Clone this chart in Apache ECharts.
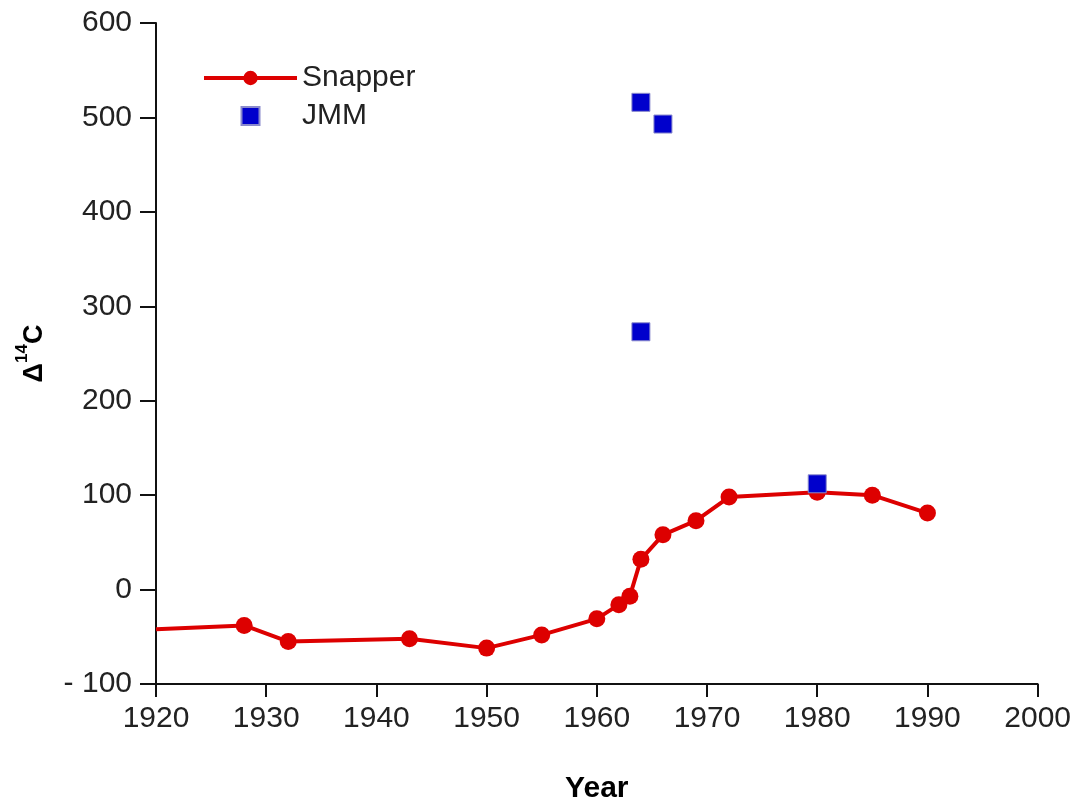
<!DOCTYPE html>
<html>
<head>
<meta charset="utf-8">
<script src="https://cdn.jsdelivr.net/npm/echarts@6/dist/echarts.min.js"></script>
<style>html,body{margin:0;padding:0;background:#fff;overflow:hidden}#c{width:1074px;height:809px}</style>
</head>
<body>
<div id="c"></div>
<script>
// Data
var snapperYears = [1920, 1928, 1932, 1943, 1950, 1955, 1960, 1962, 1963, 1964, 1966, 1969, 1972, 1980, 1985, 1990];
var snapperValues = [-42, -38, -55, -52, -62, -48, -31, -16, -7, 32, 58, 73, 98, 103, 100, 81];
var jmmYears = [1964, 1966, 1964, 1980];
var jmmValues = [516, 493, 273, 112];
var xTicks = [1920, 1930, 1940, 1950, 1960, 1970, 1980, 1990, 2000];
var yTicks = [-100, 0, 100, 200, 300, 400, 500, 600];

var snapperData = snapperYears.map(function (y, i) {
  var item = { value: [y, snapperValues[i]] };
  if (i === 0) item.symbol = 'none';
  return item;
});
var jmmData = jmmYears.map(function (y, i) { return [y, jmmValues[i]]; });

var font = '"Liberation Sans", Arial, sans-serif';
var red = '#dd0000';
var blue = '#0000cc';
var chart = echarts.init(document.getElementById('c'), null, { renderer: 'canvas', width: 1074, height: 809 });
chart.setOption({
  animation: false,
  backgroundColor: '#fff',
  grid: { left: 156, right: 35, top: 23, bottom: 124, containLabel: false },
  legend: {
    orient: 'vertical',
    left: 197,
    top: 58,
    itemWidth: 93,
    itemHeight: 18,
    itemGap: 8,
    textStyle: { fontFamily: font, fontSize: 30, color: '#222' },
    data: [
      { name: 'Snapper', lineStyle: { width: 4, color: red } },
      { name: 'JMM', icon: 'path://M0,0 L18,0 L18,18 L0,18 Z' }
    ]
  },
  xAxis: {
    type: 'value',
    min: xTicks[0],
    max: xTicks[xTicks.length - 1],
    interval: 10,
    splitLine: { show: false },
    axisLine: { show: true, onZero: false, lineStyle: { color: '#111', width: 2 } },
    axisTick: { show: true, length: 13, lineStyle: { color: '#111', width: 2 } },
    axisLabel: { fontFamily: font, fontSize: 30, color: '#222', margin: 20, formatter: function (v) { return String(v); } },
    name: 'Year',
    nameLocation: 'middle',
    nameGap: 90,
    nameTextStyle: { fontFamily: font, fontSize: 30, fontWeight: 'bold', color: '#000' }
  },
  yAxis: {
    type: 'value',
    min: yTicks[0],
    max: yTicks[yTicks.length - 1],
    interval: 100,
    splitLine: { show: false },
    axisLine: { show: true, onZero: false, lineStyle: { color: '#111', width: 2 } },
    axisTick: { show: true, length: 16, lineStyle: { color: '#111', width: 2 } },
    axisLabel: {
      fontFamily: font, fontSize: 30, color: '#222', margin: 24,
      formatter: function (v) { return v < 0 ? '- ' + Math.abs(v) : String(v); }
    },
    name: '{a|Δ}{s|14}{a|C}',
    nameLocation: 'middle',
    nameRotate: 90,
    nameGap: 108,
    nameTextStyle: {
      rich: {
        a: { fontFamily: font, fontSize: 27, fontWeight: 'bold', color: '#000', lineHeight: 34, verticalAlign: 'bottom' },
        s: { fontFamily: font, fontSize: 17, fontWeight: 'bold', color: '#000', lineHeight: 34, verticalAlign: 'top' }
      }
    }
  },
  series: [
    {
      name: 'Snapper',
      type: 'line',
      data: snapperData,
      symbol: 'circle',
      symbolSize: 17,
      showAllSymbol: true,
      lineStyle: { color: red, width: 4 },
      itemStyle: { color: red, opacity: 1 },
      z: 2
    },
    {
      name: 'JMM',
      type: 'scatter',
      data: jmmData,
      symbol: 'rect',
      symbolSize: 18,
      itemStyle: { color: blue, opacity: 1, borderColor: '#8a8acc', borderWidth: 1 },
      z: 3
    }
  ]
});
</script>
</body>
</html>
